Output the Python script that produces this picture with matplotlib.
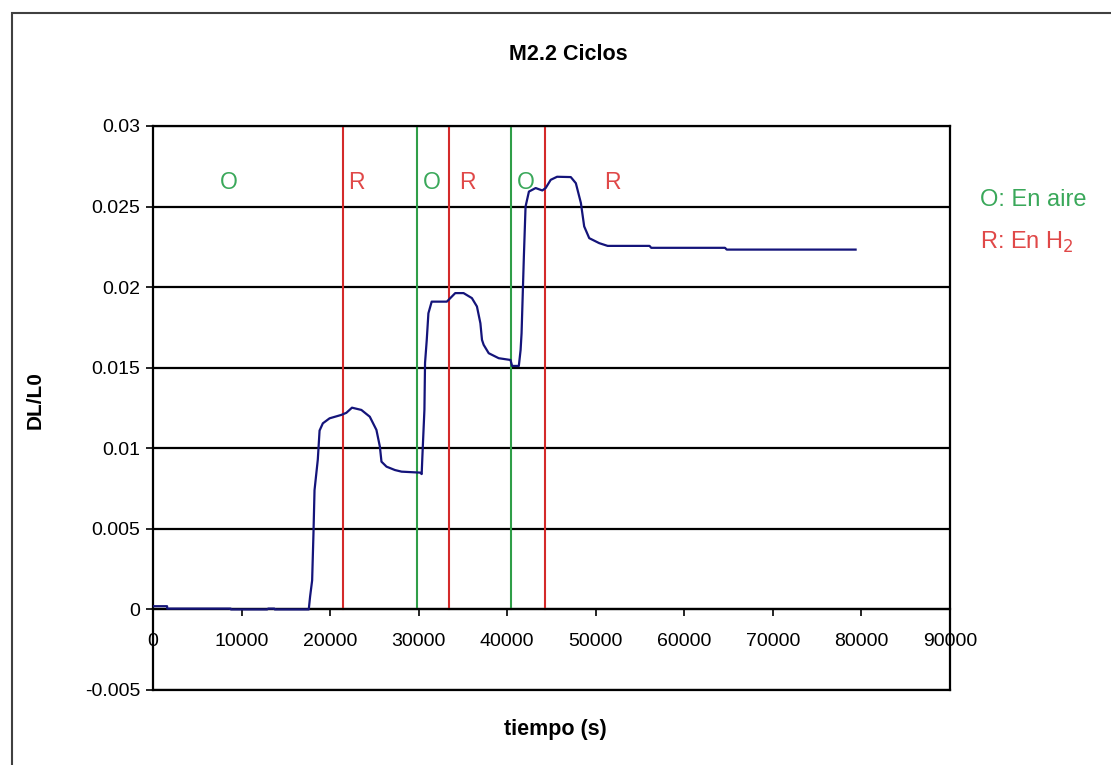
#!/usr/bin/env python3
"""
Dilatometry cycles for sample M2.2: DL/L0 vs time with oxidation (O)
and reduction (R) switch times marked.
"""

import matplotlib.pyplot as plt
from matplotlib.patches import Rectangle

# time (s) and relative elongation DL/L0
tiempo = [0, 1590, 1600, 8775, 8800, 12900, 13000, 13700, 13750, 17590,
          17740, 17970, 18120, 18240, 18610, 18810, 19180, 19940, 21260,
          21830, 22470, 23530, 24480, 25230, 25620, 25800, 26370, 27320,
          28070, 30160, 30340, 30420, 30650, 30720, 30910, 31100, 31470,
          33180, 34130, 35070, 36010, 36580, 36970, 37150, 37340, 37910,
          39040, 40370, 40550, 41310, 41510, 41620, 41880, 42070, 42450,
          43210, 43960, 44340, 44910, 45630, 47180, 47750, 48320, 48690,
          49260, 50390, 51340, 56070, 56260, 64590, 64790, 79340]
dl_l0 = [0.0002, 0.0002, 0.00005, 0.00005, 0.0, 0.0, 0.00005, 0.00005, 0.0, 0.0,
         0.0008, 0.0018, 0.0047, 0.0074, 0.0093, 0.0111, 0.01155, 0.01186, 0.01207,
         0.0122, 0.01252, 0.01238, 0.01196, 0.01114, 0.0101, 0.00917, 0.00886, 0.00865,
         0.00855, 0.00849, 0.0084, 0.0095, 0.0124, 0.0153, 0.0167, 0.01838, 0.0191,
         0.0191, 0.01963, 0.01963, 0.01932, 0.0188, 0.01776, 0.01673, 0.01642, 0.0159,
         0.01559, 0.01548, 0.01511, 0.01511, 0.0161, 0.01714, 0.0219, 0.025, 0.02593,
         0.02615, 0.026, 0.02615, 0.02666, 0.02685, 0.02683, 0.02645, 0.02522, 0.02377,
         0.02304, 0.02273, 0.02256, 0.02256, 0.02244, 0.02244, 0.02233, 0.02233]

# gas switch times (s)
cambios_t = [21450, 29780, 33370, 40480, 44270]
cambios_tipo = ['R', 'O', 'R', 'O', 'R']

# segment labels
etiquetas = ['O', 'R', 'O', 'R', 'O', 'R']
etiquetas_t = [8580, 22930, 31480, 35450, 42070, 51900]
etiquetas_y = 0.0265

x_ticks = list(range(0, 90001, 10000))
y_ticks = [-0.005, 0, 0.005, 0.01, 0.015, 0.02, 0.025, 0.03]
y_tick_labels = ['-0.005', '0', '0.005', '0.01', '0.015', '0.02', '0.025', '0.03']

VERDE = '#2f9e48'
ROJO = '#d42a2a'
VERDE_TXT = '#3aa85a'
ROJO_TXT = '#e04848'


def main():
    plt.rcParams['font.family'] = ['Liberation Sans', 'DejaVu Sans']

    fig = plt.figure(figsize=(11.11, 7.65), dpi=100)
    W, H = 1111, 765

    # outer chart frame (runs off the right and bottom edges)
    fig.patches.append(Rectangle((12 / W, -1.0), 2.0, 2.0 - 13 / H, transform=fig.transFigure,
                                 fill=False, edgecolor='#404040', linewidth=1.5))

    ax = fig.add_axes([153 / W, 1 - 690 / H, (950 - 153) / W, (690 - 126) / H])
    ax.set_xlim(0, 90000)
    ax.set_ylim(-0.005, 0.03)

    # horizontal gridlines
    for y in y_ticks:
        ax.axhline(y, color='black', linewidth=1.6, zorder=1)

    # gas switch lines, from 0 up to the top
    for t, tipo in zip(cambios_t, cambios_tipo):
        col = ROJO if tipo == 'R' else VERDE
        ax.plot([t, t], [0, 0.03], color=col, linewidth=1.5, zorder=2)

    ax.plot(tiempo, dl_l0, color='#14147a', linewidth=1.6, zorder=3)

    for lab, t in zip(etiquetas, etiquetas_t):
        col = ROJO_TXT if lab == 'R' else VERDE_TXT
        ax.text(t, etiquetas_y, lab, color=col, fontsize=16.5, ha='center', va='center')

    # axes: x axis crosses at 0
    ax.spines['bottom'].set_position(('data', 0))
    for s in ['left', 'right', 'top', 'bottom']:
        ax.spines[s].set_linewidth(1.6)
        ax.spines[s].set_color('black')
    ax.set_xticks(x_ticks)
    ax.set_xticklabels([str(v) for v in x_ticks])
    ax.set_yticks(y_ticks)
    ax.set_yticklabels(y_tick_labels)
    ax.tick_params(axis='x', direction='out', length=5, width=1.2, pad=12, labelsize=14)
    ax.tick_params(axis='y', direction='out', length=5, width=1.2, pad=4, labelsize=14)

    # bottom border of the plot area
    ax.axhline(-0.005, color='black', linewidth=1.6, clip_on=False, zorder=4)

    fig.text(568 / W, 1 - 55 / H, 'M2.2 Ciclos', fontsize=15.5, fontweight='bold',
             ha='center', va='center')
    fig.text(555 / W, 1 - 730 / H, 'tiempo (s)', fontsize=15.5, fontweight='bold',
             ha='center', va='center')
    fig.text(35 / W, 1 - 400 / H, 'DL/L0', fontsize=15, fontweight='bold',
             ha='center', va='center', rotation=90)

    # legend text on the right
    fig.text(980 / W, 1 - 200 / H, 'O: En aire', fontsize=17, color=VERDE_TXT,
             ha='left', va='center')
    fig.text(980 / W, 1 - 242 / H, r'R: En H$_2$', fontsize=17, color=ROJO_TXT,
             ha='left', va='center')

    fig.savefig('out.png', dpi=100)


if __name__ == "__main__":
    main()
